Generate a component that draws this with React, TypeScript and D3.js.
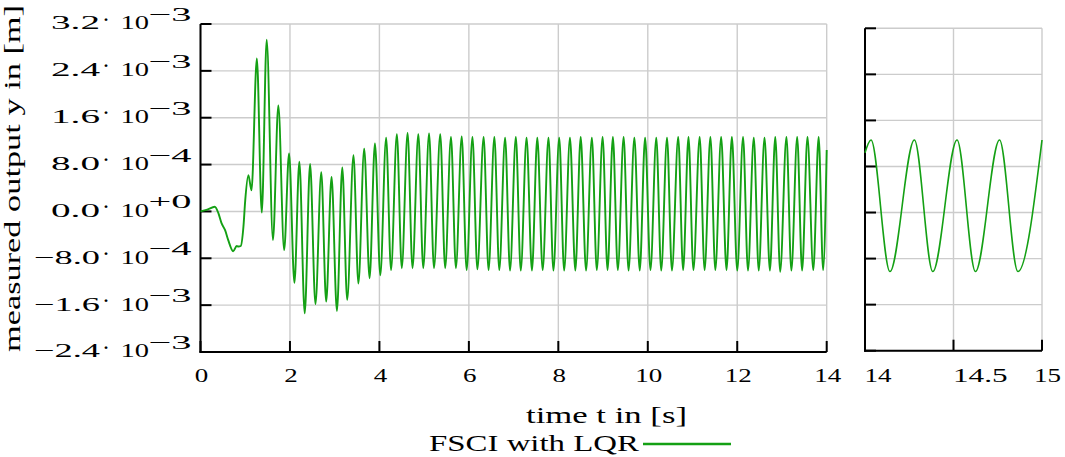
import React from 'react';
import * as d3 from 'd3';

const W = 1065;
const H = 457;

const mainTime = [
  0.00, 0.15, 0.32, 0.40, 0.47, 0.55, 0.62, 0.73, 0.81, 0.85, 0.90, 0.96, 1.00,
  1.07, 1.14, 1.26, 1.37, 1.48, 1.62, 1.74, 1.87, 1.98, 2.10, 2.21, 2.33, 2.45,
  2.57, 2.70, 2.81, 2.93, 3.05, 3.17, 3.28, 3.42, 3.53, 3.66, 3.78, 3.90, 4.02,
  4.15, 4.26, 4.39, 4.50, 4.63, 4.74, 4.87, 4.98, 5.11, 5.22, 5.36, 5.47, 5.60,
  5.71, 5.84, 5.95, 6.08, 6.19, 6.33, 6.44, 6.57, 6.68, 6.81, 6.92, 7.05, 7.16,
  7.29, 7.41, 7.53, 7.65, 7.78, 7.89, 8.02, 8.13, 8.26, 8.38, 8.50, 8.62, 8.75,
  8.86, 8.99, 9.10, 9.22, 9.33, 9.46, 9.57, 9.70, 9.82, 9.94, 10.06, 10.19, 10.30,
  10.43, 10.54, 10.68, 10.79, 10.91, 11.02, 11.16, 11.27, 11.40, 11.51, 11.64,
  11.76, 11.88, 12.00, 12.13, 12.24, 12.37, 12.48, 12.61, 12.73, 12.85, 12.96,
  13.10, 13.21, 13.34, 13.45, 13.57, 13.70, 13.82, 13.92, 14.00,
];
const mainOutputMilli = [
  0.00, 0.03, 0.08, -0.03, -0.20, -0.32, -0.49, -0.68, -0.59, -0.60, -0.59, -0.26, 0.19,
  0.62, 0.36, 2.61, -0.02, 2.93, -0.49, 1.81, -0.66, 0.99, -1.22, 0.85, -1.74, 0.81,
  -1.58, 0.67, -1.54, 0.59, -1.70, 0.75, -1.51, 0.96, -1.23, 1.07, -1.14, 1.16, -1.09,
  1.26, -1.00, 1.32, -0.97, 1.34, -0.97, 1.32, -0.97, 1.33, -0.97, 1.32, -0.97, 1.27,
  -0.97, 1.28, -1.00, 1.27, -0.99, 1.27, -1.00, 1.27, -1.00, 1.26, -1.01, 1.27, -1.01,
  1.26, -1.01, 1.26, -1.00, 1.26, -1.01, 1.26, -1.01, 1.26, -1.01, 1.27, -1.01, 1.26,
  -1.00, 1.27, -1.00, 1.27, -1.00, 1.27, -1.01, 1.26, -1.01, 1.26, -1.00, 1.26, -1.01,
  1.26, -1.01, 1.27, -1.00, 1.27, -1.00, 1.27, -1.00, 1.27, -1.00, 1.27,
  -1.00, 1.27, -1.01, 1.27, -1.01, 1.26, -1.01, 1.26, -1.01, 1.27, -1.03,
  1.27, -1.01, 1.27, -1.01, 1.27, -1.00, 1.27, -1.00, 1.05,
];

// Zoomed window 14 s .. 15 s
const zoomTime = [14.000, 14.034, 14.141, 14.279, 14.383, 14.520, 14.624, 14.760, 14.864, 15.000];
const zoomOutputMilli = [1.04, 1.26, -1.025, 1.26, -1.025, 1.26, -1.025, 1.26, -1.025, 1.26];

const yTickValues = [-2.4e-3, -1.6e-3, -0.8e-3, 0, 0.8e-3, 1.6e-3, 2.4e-3, 3.2e-3];
const yTickMantissa = ['−2.4', '−1.6', '−8.0', '0.0', '8.0', '1.6', '2.4', '3.2'];
const yTickExponent = ['−3', '−3', '−4', '+0', '−4', '−3', '−3', '−3'];
const xTicksMain = [0, 2, 4, 6, 8, 10, 12, 14];
const xTicksZoom = [14, 14.5, 15];
const xTickLabelsZoom = ['14', '14.5', '15'];
const seriesName = 'FSCI with LQR';
const xTitle = 'time t in [s]';
const yTitle = 'measured output y in [m]';

const GREEN = '#14a014';
const GRID = '#cccccc';
const FONT = '"Liberation Serif", "DejaVu Serif", serif';
const TICK_FS = 19.5;

function tickWidth(s: string) {
  let w = 0;
  for (const c of s) w += c === '.' ? 14 : 13.5;
  return w;
}
function mantWidth(s: string) {
  let w = 0;
  for (const c of s) w += c === '.' ? 20 : c === '−' ? 17 : 14.5;
  return w;
}

export default function App() {
  const xL = d3.scaleLinear().domain([0, 14]).range([200.5, 826.7]);
  const yL = d3.scaleLinear().domain([-2.4e-3, 3.2e-3]).range([352, 24]);
  const xR = d3.scaleLinear().domain([14, 15]).range([865, 1042]);
  const yR = d3.scaleLinear().domain([-2.4e-3, 3.2e-3]).range([350.7, 28.3]);

  const mainData: [number, number][] = mainTime.map((t, i) => [t, mainOutputMilli[i] * 1e-3]);
  const zoomData: [number, number][] = zoomTime.map((t, i) => [t, zoomOutputMilli[i] * 1e-3]);

  const lineL = d3.line<[number, number]>().x(d => xL(d[0])).y(d => yL(d[1])).curve(d3.curveMonotoneX);
  const lineR = d3.line<[number, number]>().x(d => xR(d[0])).y(d => yR(d[1])).curve(d3.curveMonotoneX);

  const [l0, l1] = xL.range();
  const [lb, lt] = yL.range();
  const [r0, r1] = xR.range();
  const [rb, rt] = yR.range();
  const TL = 11;

  return (
    <svg width={W} height={H} style={{ position: 'absolute', left: 0, top: 0, display: 'block', background: '#fff' }}
      fontFamily={FONT}>
      <rect x={0} y={0} width={W} height={H} fill="#fff" />

      {/* ---------- Left panel ---------- */}
      <g>
        {yTickValues.map((v, i) => (
          <line key={'gyl' + i} x1={l0} x2={l1} y1={yL(v)} y2={yL(v)} stroke={GRID} strokeWidth={1.4} />
        ))}
        {xTicksMain.map((v, i) => (
          <line key={'gxl' + i} x1={xL(v)} x2={xL(v)} y1={lb} y2={lt} stroke={GRID} strokeWidth={1.4} />
        ))}
        <line x1={l0} x2={l0} y1={lt} y2={lb + 1} stroke="#000" strokeWidth={2} />
        <line x1={l0 - 1} x2={l1} y1={lb} y2={lb} stroke="#000" strokeWidth={2} />
        {yTickValues.map((v, i) => (
          <line key={'tyl' + i} x1={l0} x2={l0 + TL} y1={yL(v)} y2={yL(v)} stroke="#000" strokeWidth={2} />
        ))}
        {xTicksMain.map((v, i) => (
          <line key={'txl' + i} x1={xL(v)} x2={xL(v)} y1={lb} y2={lb - TL} stroke="#000" strokeWidth={2} />
        ))}
        <path d={lineL(mainData) || ''} fill="none" stroke={GREEN} strokeWidth={1.9} strokeLinejoin="round" />

        {yTickValues.map((v, i) => {
          const y = yL(v);
          const mw = mantWidth(yTickMantissa[i]);
          return (
            <g key={'yl' + i} fontSize={TICK_FS} fill="#000">
              <text x={100 - mw} y={y + 5.4} textLength={mw} lengthAdjust="spacingAndGlyphs">{yTickMantissa[i]}</text>
              <text x={106} y={y + 2.5} textAnchor="middle" fontSize={24}>·</text>
              <text x={120.5} y={y + 5.4} textLength={28.5} lengthAdjust="spacingAndGlyphs">10</text>
              <text x={148.5} y={y - 3} textLength={43} lengthAdjust="spacingAndGlyphs">{yTickExponent[i]}</text>
            </g>
          );
        })}
        {xTicksMain.map((v, i) => {
          const s = String(v);
          const w = tickWidth(s);
          return (
            <text key={'xl' + i} x={xL(v) + 1 - w / 2} y={381.7} fontSize={TICK_FS}
              textLength={w} lengthAdjust="spacingAndGlyphs">{s}</text>
          );
        })}
      </g>

      {/* ---------- Right panel ---------- */}
      <g>
        {yTickValues.map((v, i) => (
          <line key={'gyr' + i} x1={r0} x2={r1} y1={yR(v)} y2={yR(v)} stroke={GRID} strokeWidth={1.4} />
        ))}
        {xTicksZoom.map((v, i) => (
          <line key={'gxr' + i} x1={xR(v)} x2={xR(v)} y1={rb} y2={rt} stroke={GRID} strokeWidth={1.4} />
        ))}
        <line x1={r0} x2={r0} y1={rt} y2={rb + 1} stroke="#000" strokeWidth={2} />
        <line x1={r0 - 1} x2={r1} y1={rb} y2={rb} stroke="#000" strokeWidth={2} />
        {yTickValues.map((v, i) => (
          <line key={'tyr' + i} x1={r0} x2={r0 + TL} y1={yR(v)} y2={yR(v)} stroke="#000" strokeWidth={2} />
        ))}
        {xTicksZoom.map((v, i) => (
          <line key={'txr' + i} x1={xR(v)} x2={xR(v)} y1={rb} y2={rb - TL} stroke="#000" strokeWidth={2} />
        ))}
        <path d={lineR(zoomData) || ''} fill="none" stroke={GREEN} strokeWidth={1.6} strokeLinejoin="round" />
        {xTicksZoom.map((v, i) => {
          const s = xTickLabelsZoom[i];
          const w = tickWidth(s);
          const last = i === xTicksZoom.length - 1;
          const x = last ? 1061 - w : xR(v) - 0.5;
          return (
            <text key={'xr' + i} x={x} y={381.7} fontSize={TICK_FS}
              textLength={w} lengthAdjust="spacingAndGlyphs">{s}</text>
          );
        })}
      </g>

      {/* ---------- Titles & legend ---------- */}
      <text x={526} y={423} fontSize={24} textLength={161} lengthAdjust="spacingAndGlyphs">{xTitle}</text>
      <g transform="translate(20,178.5) rotate(-90)">
        <text x={-173.5} y={0} fontSize={23} textLength={347} lengthAdjust="spacingAndGlyphs">{yTitle}</text>
      </g>
      <text x={429} y={451} fontSize={24} textLength={210} lengthAdjust="spacingAndGlyphs">{seriesName}</text>
      <line x1={643} x2={731} y1={444} y2={444} stroke={GREEN} strokeWidth={2.4} />
    </svg>
  );
}
